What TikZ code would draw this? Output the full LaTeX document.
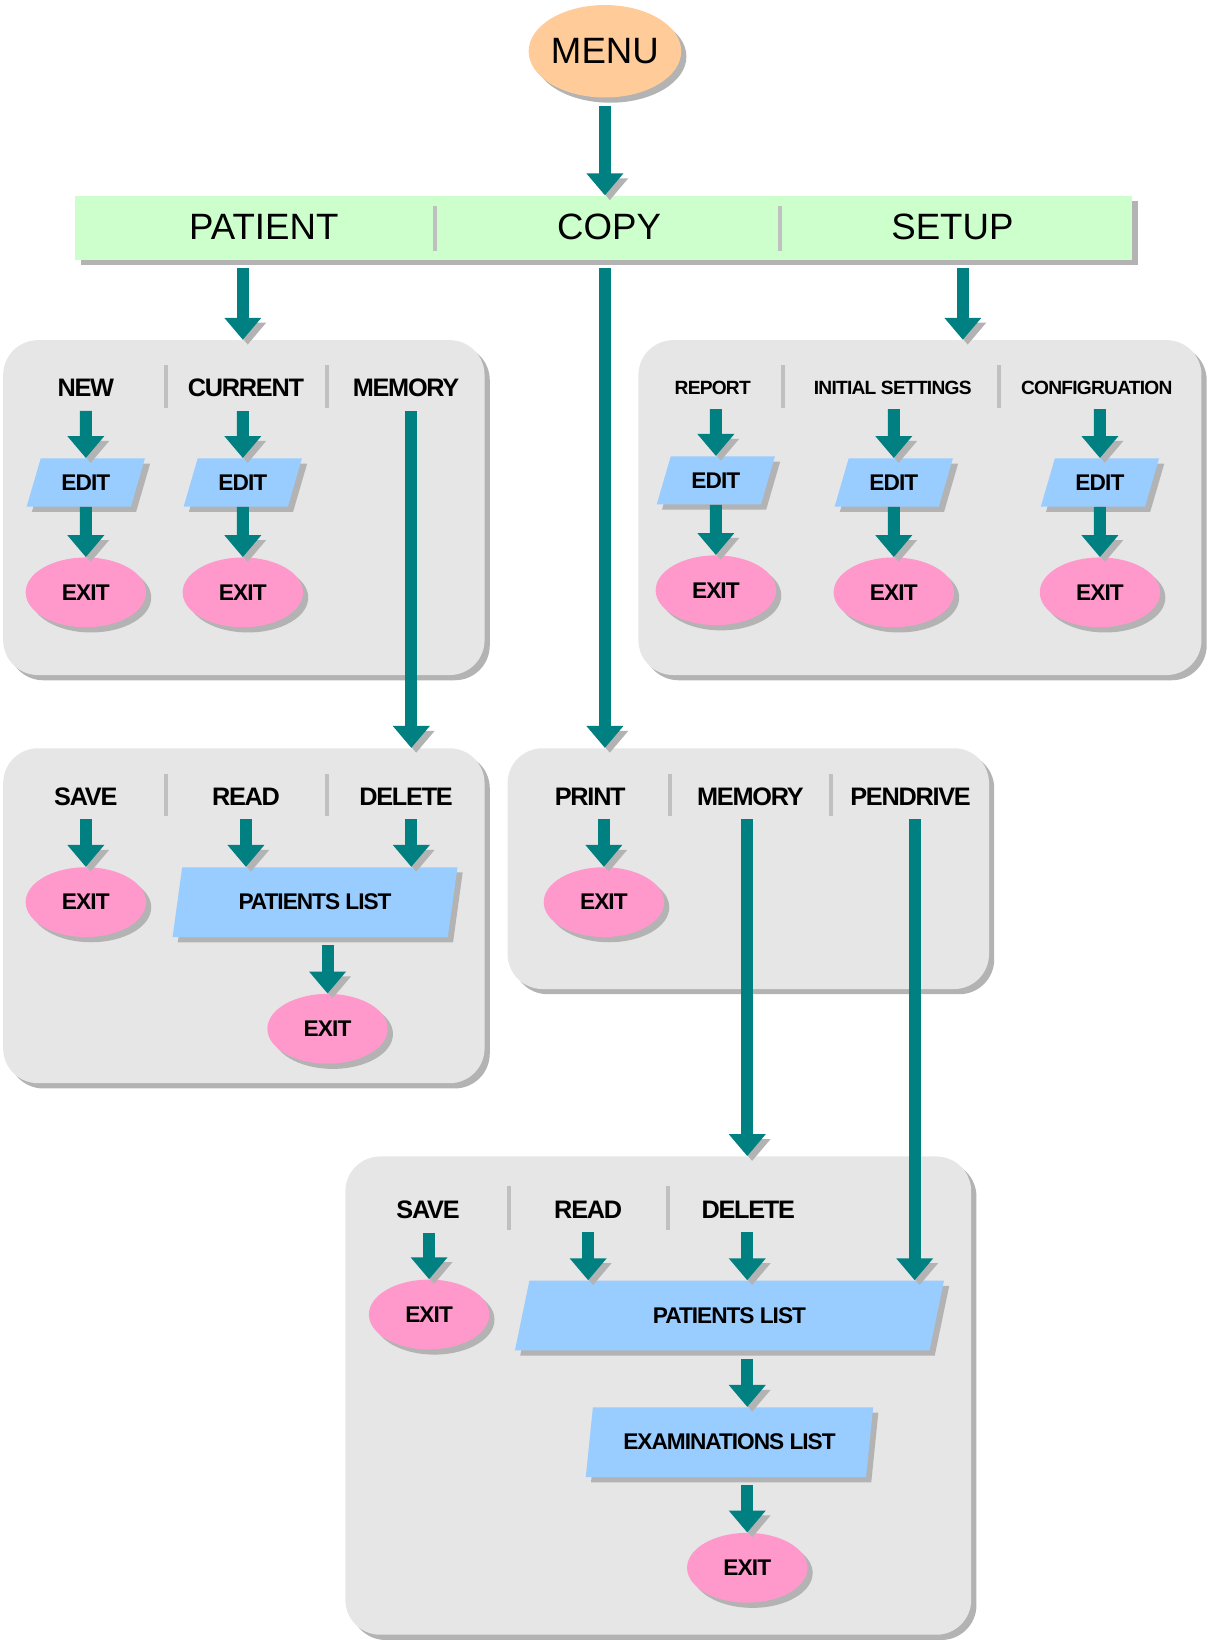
\documentclass[tikz,border=0pt]{standalone}
\usepackage{fontspec}
\setmainfont{Liberation Sans}
\usepackage{tikz}
\usetikzlibrary{positioning}
\usetikzlibrary{fit}
\usetikzlibrary{shapes.geometric}
\usetikzlibrary{shadows}
\usetikzlibrary{arrows.meta}
\usepackage{xcolor}

\definecolor{menuorange}{HTML}{FFCC99}
\definecolor{barmint}{HTML}{CCFFCC}
\definecolor{panelgrey}{HTML}{E6E6E6}
\definecolor{editblue}{HTML}{99CCFF}
\definecolor{exitpink}{HTML}{FF99CC}
\definecolor{flowteal}{HTML}{008080}
\definecolor{shadowgrey}{HTML}{B3B3B3}
\definecolor{sepgrey}{HTML}{C0C0C0}

\newcommand{\tightfont}[2]{\fontsize{#1}{#1}\selectfont\bfseries\addfontfeatures{LetterSpace=#2}}

\tikzset{
  dropgrey/.style={drop shadow={shadow xshift=3pt, shadow yshift=-3pt, fill=shadowgrey, opacity=1}},
  panel/.style={fill=panelgrey, rounded corners=20pt, inner sep=0pt, dropgrey},
  menubox/.style={ellipse, fill=menuorange, minimum width=82pt, minimum height=53pt, inner sep=0pt, dropgrey, font=\fontsize{21}{25}\selectfont},
  barlabel/.style={font=\fontsize{21}{25}\selectfont, inner sep=0pt},
  collabel/.style={font=\tightfont{14.5}{-5}, inner sep=0pt, outer sep=8pt},
  smalllabel/.style={collabel, font=\tightfont{11}{-4}},
  editbox/.style={trapezium, trapezium left angle=64, trapezium right angle=116, trapezium stretches=true, fill=editblue, minimum width=68pt, minimum height=27.6pt, inner sep=0pt, dropgrey, font=\tightfont{13}{-4}},
  listbox/.style={editbox, trapezium left angle=71, trapezium right angle=109, minimum height=40pt, font=\tightfont{13}{-4.5}},
  exitbox/.style={ellipse, fill=exitpink, minimum width=69pt, minimum height=40pt, inner sep=0pt, dropgrey, font=\tightfont{13}{-4}},
  flow/.style={draw=flowteal, line width=6.9pt, -{Triangle[width=20.4pt, length=12.6pt]}, preaction={draw=shadowgrey, transform canvas={shift={(2.8pt,-2.8pt)}}}},
  gap/.style={shorten <=4.5pt},
  sep/.style={draw=sepgrey, line width=2.3pt}
}

\begin{document}
\begin{tikzpicture}[x=0.6pt, y=-0.6pt]
\useasboundingbox (0,0) rectangle (1154,1568);

% panels
\node[panel, fit={(3,325) (463,645)}] (patientpanel) {};
\node[panel, fit={(610,325) (1148,645)}] (setuppanel) {};
\node[panel, fit={(3,715) (463,1035)}] (memorypanel) {};
\node[panel, fit={(485,715) (945,945)}] (copypanel) {};
\node[panel, fit={(330,1105) (928,1562)}] (listpanel) {};

% top level
\node[menubox] (menu) at (578,49) {MENU};
\node[fill=barmint, inner sep=0pt, dropgrey, fit={(72,187) (1082,248)}] (bar) {};
\node[barlabel] (patient) at (252,217) {PATIENT};
\node[barlabel] (copy) at (582,217) {COPY};
\node[barlabel] (setup) at (910,217) {SETUP};
\draw[sep] (416,197) -- (416,240);
\draw[sep] (745,197) -- (745,240);

% patient
\node[collabel] (new) at (82,371) {NEW};
\node[collabel] (current) at (235,371) {CURRENT};
\node[collabel] (memory) at (388,371) {MEMORY};
\draw[sep] (159,349) -- (159,390);
\draw[sep] (312,349) -- (312,390);
\node[editbox] (editnew) at (82,461) {EDIT};
\node[editbox] (editcur) at (232,461) {EDIT};
\node[exitbox] (exitnew) at (82,566) {EXIT};
\node[exitbox] (exitcur) at (232,566) {EXIT};

% setup
\node[smalllabel] (report) at (681,371) {REPORT};
\node[smalllabel] (initial) at (853,371) {INITIAL SETTINGS};
\node[smalllabel] (config) at (1048,371) {CONFIGRUATION};
\draw[sep] (748,349) -- (748,390);
\draw[sep] (955,349) -- (955,390);
\node[editbox] (editrep) at (684,459) {EDIT};
\node[editbox] (editini) at (854,461) {EDIT};
\node[editbox] (editcon) at (1051,461) {EDIT};
\node[exitbox] (exitrep) at (684,564) {EXIT};
\node[exitbox] (exitini) at (854,566) {EXIT};
\node[exitbox] (exitcon) at (1051,566) {EXIT};

% patient memory
\node[collabel] (save) at (82,761) {SAVE};
\node[collabel] (read) at (235,761) {READ};
\node[collabel] (delete) at (388,761) {DELETE};
\draw[sep] (159,740) -- (159,780);
\draw[sep] (312,740) -- (312,780);
\node[exitbox] (exitsave) at (82,862) {EXIT};
\node[listbox, minimum width=164pt] (patlist) at (301,862) {PATIENTS LIST};
\node[exitbox] (exitlist) at (313,983) {EXIT};

% copy
\node[collabel] (print) at (564,761) {PRINT};
\node[collabel] (copymem) at (717,761) {MEMORY};
\node[collabel] (pendrive) at (870,761) {PENDRIVE};
\draw[sep] (640,740) -- (640,780);
\draw[sep] (794,740) -- (794,780);
\node[exitbox] (exitprint) at (577,862) {EXIT};

% memory / pendrive
\node[collabel] (save2) at (409,1156) {SAVE};
\node[collabel] (read2) at (562,1156) {READ};
\node[collabel] (delete2) at (715,1156) {DELETE};
\draw[sep] (486,1133) -- (486,1175);
\draw[sep] (638,1133) -- (638,1175);
\node[exitbox] (exitsave2) at (410,1256) {EXIT};
\node[listbox, minimum width=247pt] (biglist) at (697,1257) {PATIENTS LIST};
\node[listbox, minimum width=165pt] (examlist) at (697,1378) {EXAMINATIONS LIST};
\node[exitbox] (exitexam) at (714,1498) {EXIT};

% columns for arrows
\coordinate (patientcol) at (232,0);
\coordinate (setupcol) at (920,0);
\coordinate (memcol) at (393,0);
\coordinate (dmemcol) at (714,0);
\coordinate (drivecol) at (874,0);

% arrows
\draw[flow, gap] (menu.south) -- (menu.south |- bar.north);
\draw[flow, gap] (patientcol |- bar.south) -- (patientcol |- patientpanel.north);
\draw[flow, gap] (menu.south |- bar.south) -- (menu.south |- copypanel.north);
\draw[flow, gap] (setupcol |- bar.south) -- (setupcol |- setuppanel.north);

\draw[flow] (editnew |- new.south) -- (editnew.north);
\draw[flow] (editnew.south) -- (exitnew.north);
\draw[flow] (editcur |- current.south) -- (editcur.north);
\draw[flow] (editcur.south) -- (exitcur.north);
\draw[flow] (memcol |- memory.south) -- (memcol |- memorypanel.north);

\draw[flow] (editrep |- report.south) -- (editrep.north);
\draw[flow] (editrep.south) -- (exitrep.north);
\draw[flow] (editini |- initial.south) -- (editini.north);
\draw[flow] (editini.south) -- (exitini.north);
\draw[flow] (editcon |- config.south) -- (editcon.north);
\draw[flow] (editcon.south) -- (exitcon.north);

\draw[flow] (exitsave |- save.south) -- (exitsave.north);
\draw[flow] (read.south) -- (read.south |- patlist.north);
\draw[flow] (memcol |- delete.south) -- (memcol |- patlist.north);
\draw[flow, gap] (exitlist |- patlist.south) -- (exitlist.north);

\draw[flow] (exitprint |- print.south) -- (exitprint.north);
\draw[flow] (dmemcol |- copymem.south) -- (dmemcol |- listpanel.north);
\draw[flow] (drivecol |- pendrive.south) -- (drivecol |- biglist.north);

\draw[flow] (exitsave2 |- save2.south) -- (exitsave2.north);
\draw[flow] (read2.south) -- (read2.south |- biglist.north);
\draw[flow] (dmemcol |- delete2.south) -- (dmemcol |- biglist.north);
\draw[flow, gap] (dmemcol |- biglist.south) -- (dmemcol |- examlist.north);
\draw[flow, gap] (dmemcol |- examlist.south) -- (exitexam.north);
\end{tikzpicture}
\end{document}
